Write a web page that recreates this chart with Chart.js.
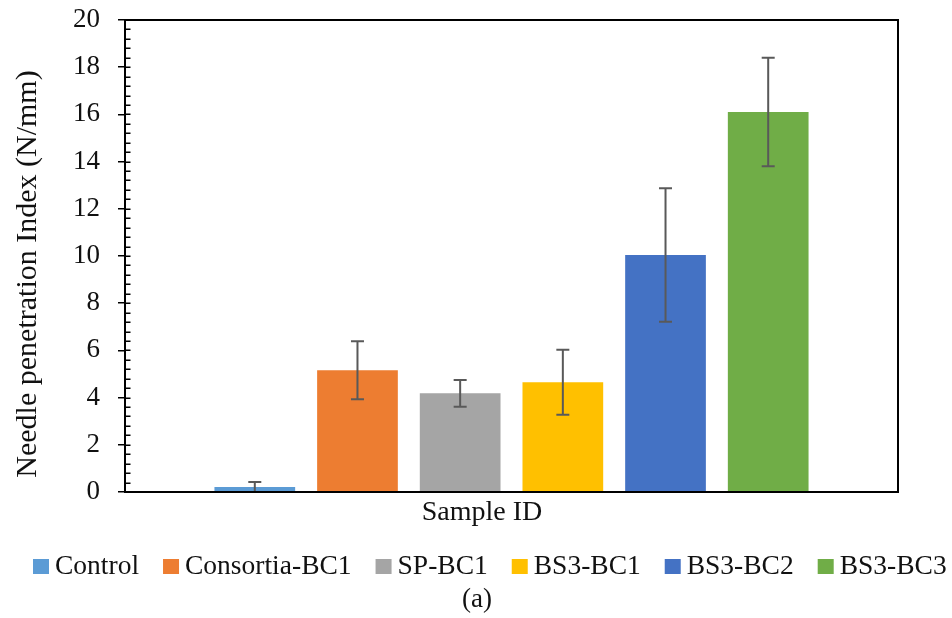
<!DOCTYPE html>
<html>
<head>
<meta charset="utf-8">
<script src="https://cdn.jsdelivr.net/npm/chart.js@4.4.1/dist/chart.umd.min.js"></script>
<style>
  html, body { margin: 0; padding: 0; background: #ffffff; }
  #wrap { width: 952px; height: 618px; position: relative; }
</style>
</head>
<body>
<div id="wrap"><canvas id="c" width="952" height="618"></canvas></div>
<script>
// ---- data ----
const categories = ['Sample ID'];
const seriesNames = ['Control', 'Consortia-BC1', 'SP-BC1', 'BS3-BC1', 'BS3-BC2', 'BS3-BC3'];
const meanValues = [0.21, 5.16, 4.18, 4.65, 10.04, 16.10];
const errorValues = [0.21, 1.23, 0.57, 1.38, 2.83, 2.30];
const seriesColors = ['#5B9BD5', '#ED7D31', '#A5A5A5', '#FFC000', '#4472C4', '#70AD47'];
const yTickValues = [0, 2, 4, 6, 8, 10, 12, 14, 16, 18, 20];
const yMinorStep = 0.4;
const yAxisTitle = 'Needle penetration Index (N/mm)';
const xAxisTitle = 'Sample ID';
const caption = '(a)';

const FONT = '"Liberation Serif", "Times New Roman", serif';
const TEXT = '#111111';

const datasets = seriesNames.map((name, i) => ({
  label: name,
  data: categories.map(() => meanValues[i]),
  errors: categories.map(() => errorValues[i]),
  backgroundColor: seriesColors[i],
  borderWidth: 0,
  categoryPercentage: 0.797,
  barPercentage: 0.786
}));

const decorPlugin = {
  id: 'decor',
  afterDatasetsDraw(chart) {
    const ctx = chart.ctx;
    const y = chart.scales.y;
    // error bars
    ctx.save();
    ctx.strokeStyle = '#595959';
    ctx.lineWidth = 2;
    chart.data.datasets.forEach((ds, di) => {
      const meta = chart.getDatasetMeta(di);
      meta.data.forEach((bar, j) => {
        const m = ds.data[j], e = ds.errors[j];
        const yt = y.getPixelForValue(m + e);
        const yb = y.getPixelForValue(Math.max(0, m - e));
        const x = bar.x, cap = 6.5;
        ctx.beginPath();
        ctx.moveTo(x, yt); ctx.lineTo(x, yb);
        ctx.moveTo(x - cap, yt); ctx.lineTo(x + cap, yt);
        ctx.moveTo(x - cap, yb); ctx.lineTo(x + cap, yb);
        ctx.stroke();
      });
    });
    ctx.restore();
  },
  afterDraw(chart) {
    const ctx = chart.ctx;
    const a = chart.chartArea;
    const y = chart.scales.y;
    ctx.save();
    // frame
    ctx.strokeStyle = '#000000';
    ctx.lineWidth = 2;
    ctx.strokeRect(a.left, a.top, a.right - a.left, a.bottom - a.top);
    // inside (minor) ticks
    ctx.lineWidth = 1.5;
    ctx.beginPath();
    const ymax = yTickValues[yTickValues.length - 1];
    for (let k = 0; k * yMinorStep <= ymax + 1e-9; k++) {
      const py = Math.round(y.getPixelForValue(k * yMinorStep)) + 0.25;
      ctx.moveTo(a.left, py); ctx.lineTo(a.left + 5.5, py);
    }
    ctx.stroke();

    ctx.fillStyle = TEXT;
    // y title
    ctx.save();
    ctx.font = '30px ' + FONT;
    ctx.textAlign = 'center';
    ctx.textBaseline = 'alphabetic';
    ctx.translate(36, 274);
    ctx.rotate(-Math.PI / 2);
    ctx.fillText(yAxisTitle, 0, 0);
    ctx.restore();
    // x title
    ctx.font = '28px ' + FONT;
    ctx.textAlign = 'center';
    ctx.textBaseline = 'alphabetic';
    ctx.fillText(xAxisTitle, 482, 520);
    // legend
    ctx.font = '27.5px ' + FONT;
    ctx.textAlign = 'left';
    let lx = 33;
    chart.data.datasets.forEach((ds) => {
      ctx.fillStyle = ds.backgroundColor;
      ctx.fillRect(lx, 559, 16, 15);
      ctx.fillStyle = TEXT;
      ctx.fillText(ds.label, lx + 22, 574);
      lx += 22 + ctx.measureText(ds.label).width + 24;
    });
    // caption
    ctx.font = '27px ' + FONT;
    ctx.textAlign = 'center';
    ctx.fillText(caption, 477, 607);
    ctx.restore();
  }
};

new Chart(document.getElementById('c'), {
  type: 'bar',
  data: { labels: categories, datasets },
  plugins: [decorPlugin],
  options: {
    responsive: false,
    animation: false,
    devicePixelRatio: 1,
    layout: { padding: { left: 0, top: 20, right: 54, bottom: 0 } },
    plugins: { legend: { display: false }, tooltip: { enabled: false }, title: { display: false } },
    scales: {
      x: {
        display: true,
        ticks: { display: false },
        grid: { display: false, drawTicks: false },
        border: { display: false },
        afterFit(s) { s.height = 126; s.paddingLeft = 0; s.paddingRight = 0; }
      },
      y: {
        min: 0,
        max: 20,
        afterBuildTicks(s) { s.ticks = yTickValues.map(v => ({ value: v })); },
        ticks: {
          font: { family: FONT, size: 27 },
          color: TEXT,
          padding: 18
        },
        grid: { drawOnChartArea: false, drawTicks: true, tickLength: 7, color: '#000000', lineWidth: 1.5 },
        border: { display: false },
        afterFit(s) { s.width = 125; s.paddingTop = 0; s.paddingBottom = 0; }
      }
    }
  }
});
</script>
</body>
</html>
